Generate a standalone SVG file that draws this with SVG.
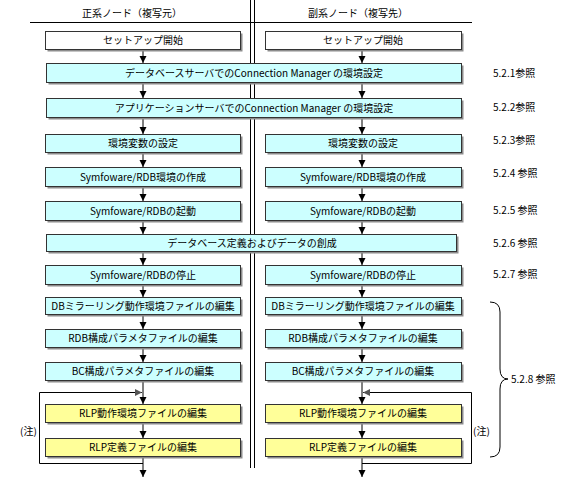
<svg xmlns="http://www.w3.org/2000/svg" width="563" height="482" viewBox="0 0 563 482">
<style>
.sh{fill:#8c8c8c}
.c{fill:#ccffff;stroke:#333;stroke-width:1}
.y{fill:#ffff99;stroke:#333;stroke-width:1}
.w{fill:#ffffff;stroke:#333;stroke-width:1}
text{font-family:"Noto Sans CJK JP","Liberation Sans",sans-serif;font-size:10px;fill:#000}
.m{text-anchor:middle}
.ln{stroke:#000;stroke-width:1;fill:none}
</style>
<defs>
<marker id="ah" markerUnits="userSpaceOnUse" markerWidth="8" markerHeight="8" refX="7" refY="4" orient="auto"><path d="M0,0.5 L7,4 L0,7.5 z" fill="#000"/></marker>
<marker id="ahg" markerUnits="userSpaceOnUse" markerWidth="8" markerHeight="8" refX="7" refY="4" orient="auto"><path d="M0,0.5 L7,4 L0,7.5 z" fill="#555"/></marker>
</defs>
<rect width="563" height="482" fill="#fff"/>
<g id="frame">
<line class="ln" x1="30" y1="22.5" x2="472" y2="22.5"/>
<line class="ln" x1="250.5" y1="0" x2="250.5" y2="468"/>
<line class="ln" x1="254.5" y1="0" x2="254.5" y2="468"/>
<text class="m" x="132" y="17">正系ノード（複写元）</text>
<text class="m" x="358" y="17">副系ノード（複写先）</text>
</g>
<g id="connectors">
<g class="ln" marker-end="url(#ah)">
<path d="M143,49.5V63"/><path d="M362,49.5V63"/>
<path d="M143,82.5V98"/><path d="M362,82.5V98"/>
<path d="M143,117.5V134"/><path d="M362,117.5V134"/>
<path d="M143,152.5V167"/><path d="M362,152.5V167"/>
<path d="M143,186.5V201"/><path d="M362,186.5V201"/>
<path d="M143,220.5V234"/><path d="M362,220.5V234"/>
<path d="M143,251.5V265"/><path d="M362,251.5V265"/>
<path d="M143,284.5V297"/><path d="M362,284.5V297"/>
<path d="M143,314.5V329"/><path d="M362,314.5V329"/>
<path d="M143,347.5V362"/><path d="M362,347.5V362"/>
<path d="M143,380.5V404"/><path d="M362,380.5V404"/>
<path d="M143,422.5V438"/><path d="M362,422.5V438"/>
<path d="M143,456.5V477"/><path d="M362,456.5V477"/>
</g>
<path class="ln" d="M143,463.5H39.5V392.5H142" marker-end="url(#ahg)"/>
<path class="ln" d="M362,463.5H471.5V392.5H363" marker-end="url(#ahg)"/>
<path class="ln" d="M490,302 Q500,302 500,312 V369 Q500,379 508,379 Q500,379 500,389 V447 Q500,457 490,457"/>
</g>
<g id="n-setup-l"><rect class="sh" x="47.5" y="33.5" width="195" height="18"/><rect class="w" x="45.5" y="31.5" width="195" height="18"/><text class="m" x="143" y="44">セットアップ開始</text></g>
<g id="n-setup-r"><rect class="sh" x="267.5" y="33.5" width="196" height="18"/><rect class="w" x="265.5" y="31.5" width="196" height="18"/><text class="m" x="363" y="44">セットアップ開始</text></g>
<g id="n-db-cm"><rect class="sh" x="48.5" y="65.5" width="415" height="19"/><rect class="c" x="46.5" y="63.5" width="415" height="19"/><text class="m" x="254" y="76.5">データベースサーバでのConnection Manager の環境設定</text></g>
<g id="n-ap-cm"><rect class="sh" x="48.5" y="100.5" width="415" height="19"/><rect class="c" x="46.5" y="98.5" width="415" height="19"/><text class="m" x="254" y="111.5">アプリケーションサーバでのConnection Manager の環境設定</text></g>
<g id="n-env-l"><rect class="sh" x="47.5" y="136.5" width="195" height="18"/><rect class="c" x="45.5" y="134.5" width="195" height="18"/><text class="m" x="143" y="147">環境変数の設定</text></g>
<g id="n-env-r"><rect class="sh" x="267.5" y="136.5" width="196" height="18"/><rect class="c" x="265.5" y="134.5" width="196" height="18"/><text class="m" x="363" y="147">環境変数の設定</text></g>
<g id="n-mk-l"><rect class="sh" x="47.5" y="169.5" width="195" height="19"/><rect class="c" x="45.5" y="167.5" width="195" height="19"/><text class="m" x="143" y="180.5">Symfoware/RDB環境の作成</text></g>
<g id="n-mk-r"><rect class="sh" x="267.5" y="169.5" width="196" height="19"/><rect class="c" x="265.5" y="167.5" width="196" height="19"/><text class="m" x="363" y="180.5">Symfoware/RDB環境の作成</text></g>
<g id="n-start-l"><rect class="sh" x="47.5" y="203.5" width="195" height="19"/><rect class="c" x="45.5" y="201.5" width="195" height="19"/><text class="m" x="143" y="214.5">Symfoware/RDBの起動</text></g>
<g id="n-start-r"><rect class="sh" x="267.5" y="203.5" width="196" height="19"/><rect class="c" x="265.5" y="201.5" width="196" height="19"/><text class="m" x="363" y="214.5">Symfoware/RDBの起動</text></g>
<g id="n-dbdef"><rect class="sh" x="48.5" y="236.5" width="410" height="17"/><rect class="c" x="46.5" y="234.5" width="410" height="17"/><text class="m" x="252" y="246.5">データベース定義およびデータの創成</text></g>
<g id="n-stop-l"><rect class="sh" x="47.5" y="267.5" width="195" height="19"/><rect class="c" x="45.5" y="265.5" width="195" height="19"/><text class="m" x="143" y="278.5">Symfoware/RDBの停止</text></g>
<g id="n-stop-r"><rect class="sh" x="267.5" y="267.5" width="196" height="19"/><rect class="c" x="265.5" y="265.5" width="196" height="19"/><text class="m" x="363" y="278.5">Symfoware/RDBの停止</text></g>
<g id="n-mir-l"><rect class="sh" x="47.5" y="299.5" width="195" height="17"/><rect class="c" x="45.5" y="297.5" width="195" height="17"/><text class="m" x="143" y="309.5">DBミラーリング動作環境ファイルの編集</text></g>
<g id="n-mir-r"><rect class="sh" x="267.5" y="299.5" width="196" height="17"/><rect class="c" x="265.5" y="297.5" width="196" height="17"/><text class="m" x="363" y="309.5">DBミラーリング動作環境ファイルの編集</text></g>
<g id="n-rdbp-l"><rect class="sh" x="47.5" y="331.5" width="195" height="18"/><rect class="c" x="45.5" y="329.5" width="195" height="18"/><text class="m" x="143" y="342">RDB構成パラメタファイルの編集</text></g>
<g id="n-rdbp-r"><rect class="sh" x="267.5" y="331.5" width="196" height="18"/><rect class="c" x="265.5" y="329.5" width="196" height="18"/><text class="m" x="363" y="342">RDB構成パラメタファイルの編集</text></g>
<g id="n-bcp-l"><rect class="sh" x="47.5" y="364.5" width="195" height="18"/><rect class="c" x="45.5" y="362.5" width="195" height="18"/><text class="m" x="143" y="375">BC構成パラメタファイルの編集</text></g>
<g id="n-bcp-r"><rect class="sh" x="267.5" y="364.5" width="196" height="18"/><rect class="c" x="265.5" y="362.5" width="196" height="18"/><text class="m" x="363" y="375">BC構成パラメタファイルの編集</text></g>
<g id="n-rlpe-l"><rect class="sh" x="47.5" y="406.5" width="195" height="18"/><rect class="y" x="45.5" y="404.5" width="195" height="18"/><text class="m" x="143" y="417">RLP動作環境ファイルの編集</text></g>
<g id="n-rlpe-r"><rect class="sh" x="267.5" y="406.5" width="196" height="18"/><rect class="y" x="265.5" y="404.5" width="196" height="18"/><text class="m" x="363" y="417">RLP動作環境ファイルの編集</text></g>
<g id="n-rlpd-l"><rect class="sh" x="47.5" y="440.5" width="195" height="18"/><rect class="y" x="45.5" y="438.5" width="195" height="18"/><text class="m" x="143" y="451">RLP定義ファイルの編集</text></g>
<g id="n-rlpd-r"><rect class="sh" x="267.5" y="440.5" width="196" height="18"/><rect class="y" x="265.5" y="438.5" width="196" height="18"/><text class="m" x="363" y="451">RLP定義ファイルの編集</text></g>
<g id="labels">
<text x="493" y="77">5.2.1参照</text>
<text x="493" y="111">5.2.2参照</text>
<text x="493" y="144">5.2.3参照</text>
<text x="493" y="177">5.2.4 参照</text>
<text x="493" y="214">5.2.5 参照</text>
<text x="493" y="247">5.2.6 参照</text>
<text x="493" y="278">5.2.7 参照</text>
<text x="511" y="383">5.2.8 参照</text>
<text x="20" y="435">(注)</text>
<text x="473" y="435">(注)</text>
</g>
</svg>
